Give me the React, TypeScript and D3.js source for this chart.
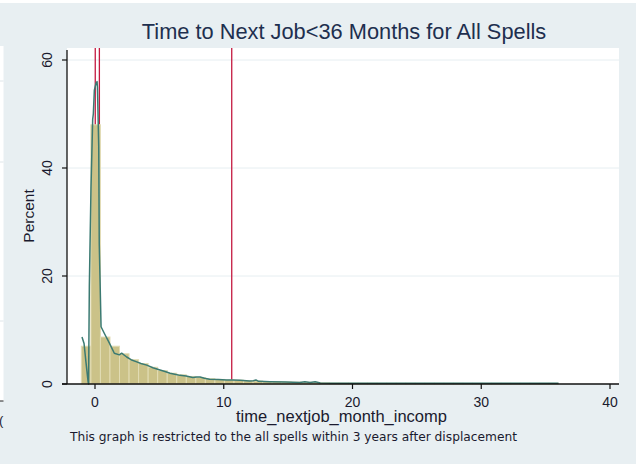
import React from "react";
import * as d3 from "d3";

const W = 642;
const H = 464;

const xTicks = [0, 10, 20, 30, 40];
const yTicks = [0, 20, 40, 60];

// histogram: 50 bins starting at -1.06 months, width 0.741 months (percent)
const binStart = -1.06;
const binWidth = 0.741;
const binPct = [
  7.0, 48.0, 8.7, 7.0, 5.6, 4.5, 3.8, 3.1, 2.5, 2.0,
  1.7, 1.4, 1.2, 1.0, 0.85, 0.75, 0.7, 0.6, 0.55, 0.45,
  0.42, 0.38, 0.35, 0.32, 0.3, 0.22, 0.18, 0.16, 0.15, 0.15,
  0.15, 0.14, 0.14, 0.14, 0.14, 0.13, 0.13, 0.13, 0.13, 0.13,
  0.12, 0.12, 0.12, 0.12, 0.12, 0.12, 0.12, 0.12, 0.12, 0.12,
];

// finer frequency line overlay
const lineMonths = [
  -1.01, -0.85, -0.7, -0.54, -0.5, -0.44, -0.31, -0.18, -0.13, -0.05,
  0.08, 0.16, 0.19, 0.29, 0.33, 0.47, 0.72, 0.85, 1.11, 1.5,
  1.89, 2.07, 2.46, 2.8, 3.24, 3.57, 4.02, 4.5, 5.05, 5.44,
  5.83, 6.2, 6.6, 7.07, 7.6, 7.9, 8.16, 8.5, 8.9, 9.55,
  10.23, 10.7, 11.27, 12.0, 12.3, 12.5, 12.7, 13.6, 14.8, 15.9,
  16.3, 16.7, 17.1, 17.5, 18.3, 36.0,
];
const linePct = [
  8.7, 7.5, 4.0, 0.5, 0.0, 18.0, 36.5, 49.0, 50.0, 54.4,
  55.7, 56.0, 55.0, 44.0, 26.0, 10.6, 9.4, 8.8, 7.6, 5.7,
  5.4, 5.7, 5.0, 4.5, 4.1, 3.8, 3.5, 3.0, 2.6, 2.3,
  2.0, 1.8, 1.6, 1.5, 1.2, 1.3, 1.3, 1.05, 0.9, 0.85,
  0.74, 0.74, 0.7, 0.55, 0.6, 0.75, 0.5, 0.43, 0.38, 0.3,
  0.4, 0.3, 0.4, 0.2, 0.15, 0.15,
];

// reference lines (months)
const refLines = [0.02, 0.34, 10.62];

const title = "Time to Next Job<36 Months for All Spells";
const xTitle = "time_nextjob_month_incomp";
const yTitle = "Percent";
const note = "This graph is restricted to the all spells within 3 years after displacement";

const FONT = "'Liberation Sans', Arial, sans-serif";

export default function App() {
  const plotL = 67, plotR = 619, plotT = 48, plotB = 384;
  const x = d3.scaleLinear().domain([0, 40]).range([95, 610]);
  const y = d3.scaleLinear().domain([0, 60]).range([plotB, 60]);

  const bins = binPct.map((p, i) => ({
    x0: binStart + i * binWidth,
    x1: binStart + (i + 1) * binWidth,
    p,
  }));

  const pts: [number, number][] = lineMonths.map((m, i) => [m, linePct[i]]);
  const linePath = d3
    .line<[number, number]>()
    .x((d) => x(d[0]))
    .y((d) => y(d[1]))(pts) as string;

  return (
    <svg
      width={W}
      height={H}
      style={{ position: "fixed", left: 0, top: 0, display: "block" }}
      fontFamily={FONT}
    >
      <rect x={0} y={0} width={W} height={H} fill="#ffffff" />
      <rect x={0} y={3} width={636} height={H - 3} fill="#e8eff2" />
      {/* cropped neighbouring figure at far left */}
      <rect x={0} y={46} width={3.5} height={355} fill="#ffffff" />
      {[81, 162, 321].map((yy) => (
        <line key={yy} x1={0} x2={3.5} y1={yy} y2={yy} stroke="#dfe6ea" strokeWidth={1} />
      ))}
      <line x1={0} x2={3.5} y1={401} y2={401} stroke="#222" strokeWidth={1} />
      <text x={-1} y={425} fontSize={13} fill="#1a1a2e">(</text>

      {/* plot region */}
      <rect x={plotL} y={plotT} width={plotR - plotL} height={plotB - plotT} fill="#ffffff" />
      {yTicks.filter((t) => t > 0).map((t) => (
        <line key={t} x1={plotL} x2={plotR} y1={y(t)} y2={y(t)} stroke="#e6eef1" strokeWidth={1} />
      ))}

      {/* reference lines (under the bars) */}
      {refLines.map((r) => (
        <line key={r} x1={x(r)} x2={x(r)} y1={plotT} y2={plotB} stroke="#c41a40" strokeWidth={1.3} />
      ))}

      {/* bars */}
      {bins.map((b, i) => (
        <rect
          key={i}
          x={x(b.x0)}
          y={y(b.p)}
          width={x(b.x1) - x(b.x0)}
          height={plotB - y(b.p)}
          fill="#cbc288"
          stroke="#e2dcb4"
          strokeWidth={1}
        />
      ))}

      {/* line */}
      <path d={linePath} fill="none" stroke="#3b7a72" strokeWidth={1.5} strokeLinejoin="round" />

      {/* axes */}
      <line x1={plotL} x2={plotL} y1={50} y2={plotB} stroke="#111" strokeWidth={1.3} />
      <line x1={62} x2={plotR} y1={plotB} y2={plotB} stroke="#111" strokeWidth={1.3} />
      {yTicks.map((t) => (
        <g key={t}>
          <line x1={62} x2={plotL} y1={y(t)} y2={y(t)} stroke="#111" strokeWidth={1.2} />
          <text
            transform={`translate(${52},${y(t)}) rotate(-90)`}
            textAnchor="middle"
            fontSize={14}
            fill="#1a1a2e"
          >
            {t}
          </text>
        </g>
      ))}
      {xTicks.map((t) => (
        <g key={t}>
          <line x1={x(t)} x2={x(t)} y1={plotB} y2={plotB + 5} stroke="#111" strokeWidth={1.2} />
          <text x={x(t)} y={407} textAnchor="middle" fontSize={14} fill="#1a1a2e">
            {t}
          </text>
        </g>
      ))}

      <text x={341.5} y={422} textAnchor="middle" fontSize={16.5} fill="#1a1a2e">
        {xTitle}
      </text>
      <text
        transform={`translate(${34},${216}) rotate(-90)`}
        textAnchor="middle"
        fontSize={15.5}
        fill="#1a1a2e"
      >
        {yTitle}
      </text>
      <text x={344} y={39} textAnchor="middle" fontSize={21.8} fill="#1e2f4f">
        {title}
      </text>
      <text
        x={70}
        y={441}
        fontSize={11.8}
        fontFamily="'DejaVu Sans', Verdana, sans-serif"
        textLength={447}
        lengthAdjust="spacingAndGlyphs"
        fill="#1a1a2e"
      >
        {note}
      </text>
    </svg>
  );
}
